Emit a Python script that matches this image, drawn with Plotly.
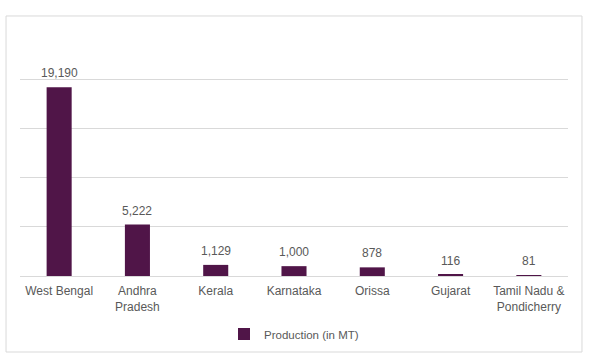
import plotly.graph_objects as go

states = ["West Bengal", "Andhra<br>Pradesh", "Kerala", "Karnataka", "Orissa", "Gujarat", "Tamil Nadu &<br>Pondicherry"]
production = [19190, 5222, 1129, 1000, 878, 116, 81]
series_name = "Production (in MT)"

bar_color = "#501548"
text_color = "#595959"
grid_color = "#D9D9D9"
font_family = "Liberation Sans, Arial, sans-serif"

fig = go.Figure()
fig.add_trace(go.Bar(
    x=states, y=production, name=series_name,
    marker=dict(color=bar_color, line=dict(width=0)),
    width=0.32, showlegend=True,
))

for s, v in zip(states, production):
    fig.add_annotation(x=s, y=v, text=f"{v:,}", showarrow=False,
                       yshift=14, font=dict(size=12, color=text_color, family=font_family))

fig.add_shape(type="rect", xref="paper", yref="paper",
              x0=-0.0255, x1=1.0255, y0=-0.309, y1=1.057,
              line=dict(color=grid_color, width=1), fillcolor="rgba(0,0,0,0)", layer="below")

fig.update_layout(
    width=594, height=362,
    margin=dict(l=20, r=26, t=30, b=86),
    paper_bgcolor="white", plot_bgcolor="white",
    font=dict(family=font_family, size=12, color=text_color),
    showlegend=True,
    legend=dict(orientation="h", x=0.5, xanchor="center", y=-0.236, yanchor="middle",
                font=dict(size=11.5, color=text_color), itemwidth=30),
    xaxis=dict(showgrid=False, showline=True, linecolor=grid_color, linewidth=1,
               ticks="", ticklabelstandoff=4, tickfont=dict(size=12, color=text_color), fixedrange=True),
    yaxis=dict(range=[0, 25000], dtick=5000, showgrid=True, gridcolor=grid_color, gridwidth=1,
               showticklabels=False, zeroline=False, showline=False, ticks="", fixedrange=True),
    bargap=0.68,
)

fig.write_html("out.html", config={"displayModeBar": False},
               post_script="document.body.style.margin='0';")
